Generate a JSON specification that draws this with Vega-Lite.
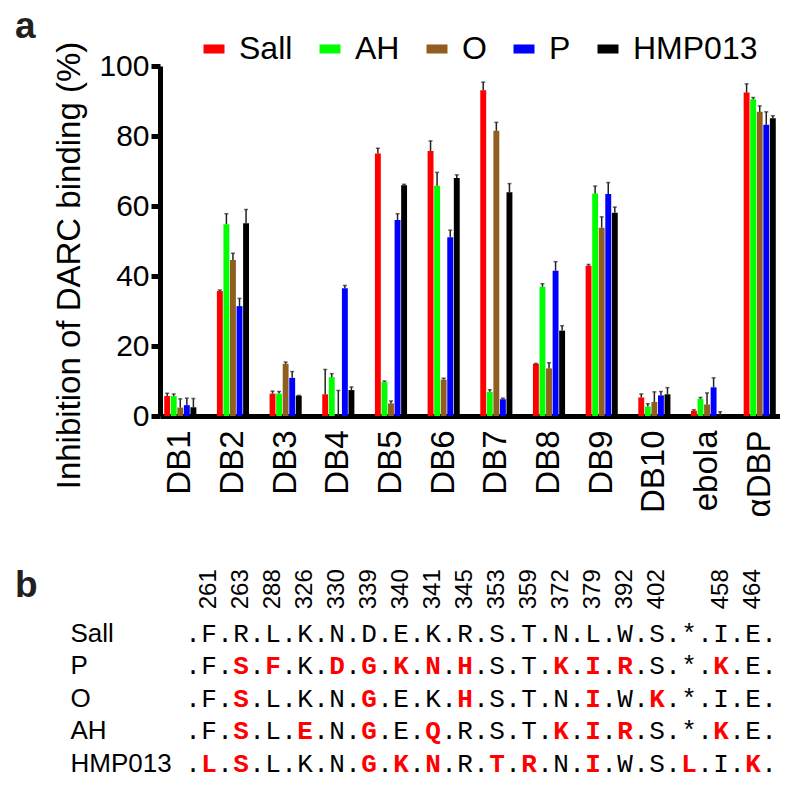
{
  "$schema": "https://vega.github.io/schema/vega-lite/v6.json",
  "background": "white",
  "padding": {"left": 15, "top": 8, "right": 0, "bottom": 0},
  "spacing": 50,
  "config": {
    "view": {"stroke": null},
    "font": "Liberation Sans",
    "axis": {"labelColor": "black", "titleColor": "black", "labelFont": "Liberation Sans", "titleFont": "Liberation Sans"}
  },
  "datasets": {
    "bars": [
      {"g": "DB1", "strain": "Sall", "v": 5.7, "hi": 6.5},
      {"g": "DB1", "strain": "AH", "v": 5.7, "hi": 6.3},
      {"g": "DB1", "strain": "O", "v": 2.4, "hi": 4.9},
      {"g": "DB1", "strain": "P", "v": 3.1, "hi": 5.1},
      {"g": "DB1", "strain": "HMP013", "v": 2.5, "hi": 5.0},
      {"g": "DB2", "strain": "Sall", "v": 35.7, "hi": 36.0},
      {"g": "DB2", "strain": "AH", "v": 54.8, "hi": 57.8},
      {"g": "DB2", "strain": "O", "v": 44.6, "hi": 46.5},
      {"g": "DB2", "strain": "P", "v": 31.4, "hi": 33.6},
      {"g": "DB2", "strain": "HMP013", "v": 55.1, "hi": 59.0},
      {"g": "DB3", "strain": "Sall", "v": 6.4, "hi": 7.1},
      {"g": "DB3", "strain": "AH", "v": 6.4, "hi": 7.0},
      {"g": "DB3", "strain": "O", "v": 14.9, "hi": 15.4},
      {"g": "DB3", "strain": "P", "v": 10.9, "hi": 12.7},
      {"g": "DB3", "strain": "HMP013", "v": 5.8, "hi": 5.9},
      {"g": "DB4", "strain": "Sall", "v": 6.2, "hi": 13.3},
      {"g": "DB4", "strain": "AH", "v": 11.1, "hi": 12.1},
      {"g": "DB4", "strain": "O", "v": 0, "hi": 7.3},
      {"g": "DB4", "strain": "P", "v": 36.5, "hi": 37.3},
      {"g": "DB4", "strain": "HMP013", "v": 7.4, "hi": 8.3},
      {"g": "DB5", "strain": "Sall", "v": 75.0, "hi": 76.5},
      {"g": "DB5", "strain": "AH", "v": 9.7, "hi": 10.0},
      {"g": "DB5", "strain": "O", "v": 3.6, "hi": 4.3},
      {"g": "DB5", "strain": "P", "v": 56.0, "hi": 57.8},
      {"g": "DB5", "strain": "HMP013", "v": 65.9, "hi": 66.2},
      {"g": "DB6", "strain": "Sall", "v": 75.7, "hi": 78.6},
      {"g": "DB6", "strain": "AH", "v": 65.8, "hi": 69.6},
      {"g": "DB6", "strain": "O", "v": 10.4, "hi": 10.8},
      {"g": "DB6", "strain": "P", "v": 51.1, "hi": 53.1},
      {"g": "DB6", "strain": "HMP013", "v": 68.0, "hi": 68.9},
      {"g": "DB7", "strain": "Sall", "v": 93.1, "hi": 95.4},
      {"g": "DB7", "strain": "AH", "v": 6.9, "hi": 7.5},
      {"g": "DB7", "strain": "O", "v": 81.5, "hi": 83.9},
      {"g": "DB7", "strain": "P", "v": 4.8, "hi": 5.1},
      {"g": "DB7", "strain": "HMP013", "v": 63.9, "hi": 66.4},
      {"g": "DB8", "strain": "Sall", "v": 14.9, "hi": 15.0},
      {"g": "DB8", "strain": "AH", "v": 36.9, "hi": 37.8},
      {"g": "DB8", "strain": "O", "v": 13.6, "hi": 15.2},
      {"g": "DB8", "strain": "P", "v": 41.5, "hi": 44.1},
      {"g": "DB8", "strain": "HMP013", "v": 24.4, "hi": 25.8},
      {"g": "DB9", "strain": "Sall", "v": 42.9, "hi": 43.3},
      {"g": "DB9", "strain": "AH", "v": 63.6, "hi": 65.7},
      {"g": "DB9", "strain": "O", "v": 53.8, "hi": 56.9},
      {"g": "DB9", "strain": "P", "v": 63.4, "hi": 66.7},
      {"g": "DB9", "strain": "HMP013", "v": 58.1, "hi": 59.7},
      {"g": "DB10", "strain": "Sall", "v": 5.3, "hi": 6.3},
      {"g": "DB10", "strain": "AH", "v": 2.7, "hi": 3.5},
      {"g": "DB10", "strain": "O", "v": 4.0, "hi": 6.9},
      {"g": "DB10", "strain": "P", "v": 5.9, "hi": 7.0},
      {"g": "DB10", "strain": "HMP013", "v": 6.2, "hi": 8.1},
      {"g": "ebola", "strain": "Sall", "v": 1.5, "hi": 1.8},
      {"g": "ebola", "strain": "AH", "v": 4.9, "hi": 5.3},
      {"g": "ebola", "strain": "O", "v": 3.3, "hi": 6.6},
      {"g": "ebola", "strain": "P", "v": 8.2, "hi": 10.9},
      {"g": "ebola", "strain": "HMP013", "v": 0, "hi": 1.2},
      {"g": "αDBP", "strain": "Sall", "v": 92.4, "hi": 94.9},
      {"g": "αDBP", "strain": "AH", "v": 90.5, "hi": 91.0},
      {"g": "αDBP", "strain": "O", "v": 86.9, "hi": 88.6},
      {"g": "αDBP", "strain": "P", "v": 83.2, "hi": 86.9},
      {"g": "αDBP", "strain": "HMP013", "v": 85.1, "hi": 85.8}
    ],
    "headers": [
      {"r": "hdr", "s": "261", "num": "261"},
      {"r": "hdr", "s": "263", "num": "263"},
      {"r": "hdr", "s": "288", "num": "288"},
      {"r": "hdr", "s": "326", "num": "326"},
      {"r": "hdr", "s": "330", "num": "330"},
      {"r": "hdr", "s": "339", "num": "339"},
      {"r": "hdr", "s": "340", "num": "340"},
      {"r": "hdr", "s": "341", "num": "341"},
      {"r": "hdr", "s": "345", "num": "345"},
      {"r": "hdr", "s": "353", "num": "353"},
      {"r": "hdr", "s": "359", "num": "359"},
      {"r": "hdr", "s": "372", "num": "372"},
      {"r": "hdr", "s": "379", "num": "379"},
      {"r": "hdr", "s": "392", "num": "392"},
      {"r": "hdr", "s": "402", "num": "402"},
      {"r": "hdr", "s": "458", "num": "458"},
      {"r": "hdr", "s": "464", "num": "464"}
    ],
    "seq": [
      {"r": "Sall", "s": "261", "a": "F", "m": 0}, {"r": "Sall", "s": "263", "a": "R", "m": 0}, {"r": "Sall", "s": "288", "a": "L", "m": 0}, {"r": "Sall", "s": "326", "a": "K", "m": 0}, {"r": "Sall", "s": "330", "a": "N", "m": 0}, {"r": "Sall", "s": "339", "a": "D", "m": 0}, {"r": "Sall", "s": "340", "a": "E", "m": 0}, {"r": "Sall", "s": "341", "a": "K", "m": 0}, {"r": "Sall", "s": "345", "a": "R", "m": 0}, {"r": "Sall", "s": "353", "a": "S", "m": 0}, {"r": "Sall", "s": "359", "a": "T", "m": 0}, {"r": "Sall", "s": "372", "a": "N", "m": 0}, {"r": "Sall", "s": "379", "a": "L", "m": 0}, {"r": "Sall", "s": "392", "a": "W", "m": 0}, {"r": "Sall", "s": "402", "a": "S", "m": 0}, {"r": "Sall", "s": "stop", "a": "*", "m": 0}, {"r": "Sall", "s": "458", "a": "I", "m": 0}, {"r": "Sall", "s": "464", "a": "E", "m": 0},
      {"r": "P", "s": "261", "a": "F", "m": 0}, {"r": "P", "s": "263", "a": "S", "m": 1}, {"r": "P", "s": "288", "a": "F", "m": 1}, {"r": "P", "s": "326", "a": "K", "m": 0}, {"r": "P", "s": "330", "a": "D", "m": 1}, {"r": "P", "s": "339", "a": "G", "m": 1}, {"r": "P", "s": "340", "a": "K", "m": 1}, {"r": "P", "s": "341", "a": "N", "m": 1}, {"r": "P", "s": "345", "a": "H", "m": 1}, {"r": "P", "s": "353", "a": "S", "m": 0}, {"r": "P", "s": "359", "a": "T", "m": 0}, {"r": "P", "s": "372", "a": "K", "m": 1}, {"r": "P", "s": "379", "a": "I", "m": 1}, {"r": "P", "s": "392", "a": "R", "m": 1}, {"r": "P", "s": "402", "a": "S", "m": 0}, {"r": "P", "s": "stop", "a": "*", "m": 0}, {"r": "P", "s": "458", "a": "K", "m": 1}, {"r": "P", "s": "464", "a": "E", "m": 0},
      {"r": "O", "s": "261", "a": "F", "m": 0}, {"r": "O", "s": "263", "a": "S", "m": 1}, {"r": "O", "s": "288", "a": "L", "m": 0}, {"r": "O", "s": "326", "a": "K", "m": 0}, {"r": "O", "s": "330", "a": "N", "m": 0}, {"r": "O", "s": "339", "a": "G", "m": 1}, {"r": "O", "s": "340", "a": "E", "m": 0}, {"r": "O", "s": "341", "a": "K", "m": 0}, {"r": "O", "s": "345", "a": "H", "m": 1}, {"r": "O", "s": "353", "a": "S", "m": 0}, {"r": "O", "s": "359", "a": "T", "m": 0}, {"r": "O", "s": "372", "a": "N", "m": 0}, {"r": "O", "s": "379", "a": "I", "m": 1}, {"r": "O", "s": "392", "a": "W", "m": 0}, {"r": "O", "s": "402", "a": "K", "m": 1}, {"r": "O", "s": "stop", "a": "*", "m": 0}, {"r": "O", "s": "458", "a": "I", "m": 0}, {"r": "O", "s": "464", "a": "E", "m": 0},
      {"r": "AH", "s": "261", "a": "F", "m": 0}, {"r": "AH", "s": "263", "a": "S", "m": 1}, {"r": "AH", "s": "288", "a": "L", "m": 0}, {"r": "AH", "s": "326", "a": "E", "m": 1}, {"r": "AH", "s": "330", "a": "N", "m": 0}, {"r": "AH", "s": "339", "a": "G", "m": 1}, {"r": "AH", "s": "340", "a": "E", "m": 0}, {"r": "AH", "s": "341", "a": "Q", "m": 1}, {"r": "AH", "s": "345", "a": "R", "m": 0}, {"r": "AH", "s": "353", "a": "S", "m": 0}, {"r": "AH", "s": "359", "a": "T", "m": 0}, {"r": "AH", "s": "372", "a": "K", "m": 1}, {"r": "AH", "s": "379", "a": "I", "m": 1}, {"r": "AH", "s": "392", "a": "R", "m": 1}, {"r": "AH", "s": "402", "a": "S", "m": 0}, {"r": "AH", "s": "stop", "a": "*", "m": 0}, {"r": "AH", "s": "458", "a": "K", "m": 1}, {"r": "AH", "s": "464", "a": "E", "m": 0},
      {"r": "HMP013", "s": "261", "a": "L", "m": 1}, {"r": "HMP013", "s": "263", "a": "S", "m": 1}, {"r": "HMP013", "s": "288", "a": "L", "m": 0}, {"r": "HMP013", "s": "326", "a": "K", "m": 0}, {"r": "HMP013", "s": "330", "a": "N", "m": 0}, {"r": "HMP013", "s": "339", "a": "G", "m": 1}, {"r": "HMP013", "s": "340", "a": "K", "m": 1}, {"r": "HMP013", "s": "341", "a": "N", "m": 1}, {"r": "HMP013", "s": "345", "a": "R", "m": 0}, {"r": "HMP013", "s": "353", "a": "T", "m": 1}, {"r": "HMP013", "s": "359", "a": "R", "m": 1}, {"r": "HMP013", "s": "372", "a": "N", "m": 0}, {"r": "HMP013", "s": "379", "a": "I", "m": 1}, {"r": "HMP013", "s": "392", "a": "W", "m": 0}, {"r": "HMP013", "s": "402", "a": "S", "m": 0}, {"r": "HMP013", "s": "stop", "a": "L", "m": 1}, {"r": "HMP013", "s": "458", "a": "I", "m": 0}, {"r": "HMP013", "s": "464", "a": "K", "m": 1}
    ]
  },
  "vconcat": [
    {
      "width": 620,
      "height": 350,
      "title": {"text": "a", "anchor": "start", "frame": "group", "dx": -145, "fontSize": 37, "fontWeight": "bold", "color": "#231f20", "font": "Liberation Sans", "offset": -5},
      "data": {"name": "bars"},
      "encoding": {
        "x": {
          "field": "g", "type": "nominal",
          "sort": ["DB1", "DB2", "DB3", "DB4", "DB5", "DB6", "DB7", "DB8", "DB9", "DB10", "ebola", "αDBP"],
          "scale": {"paddingInner": 0.39, "paddingOuter": 0.08},
          "axis": {"title": null, "labelAngle": 270, "labelFontSize": 33, "ticks": false, "domainWidth": 5, "domainColor": "black", "labelPadding": 14}
        },
        "xOffset": {"field": "strain", "type": "nominal", "sort": ["Sall", "AH", "O", "P", "HMP013"], "scale": {"paddingInner": 0.1}}
      },
      "layer": [
        {
          "mark": {"type": "bar"},
          "encoding": {
            "y": {
              "field": "v", "type": "quantitative",
              "scale": {"domain": [0, 100], "nice": false},
              "axis": {"title": "Inhibition of DARC binding (%)", "values": [0, 20, 40, 60, 80, 100], "grid": false, "domainWidth": 5, "domainColor": "black", "tickWidth": 5, "tickColor": "black", "tickSize": 9, "labelFontSize": 30, "labelPadding": 2, "titleFontSize": 33, "titleFontWeight": "normal", "titlePadding": 12, "titleY": 199}
            },
            "color": {
              "field": "strain", "type": "nominal",
              "scale": {"domain": ["Sall", "AH", "O", "P", "HMP013"], "range": ["#ff0000", "#00ff00", "#905f20", "#0000ff", "#000000"]},
              "legend": {"orient": "none", "legendX": 38, "legendY": -33, "direction": "horizontal", "title": null, "labelFontSize": 32, "labelFont": "Liberation Sans", "labelColor": "black", "symbolType": "M-1,-0.43H1V0.43H-1Z", "symbolSize": 441, "symbolStrokeWidth": 0, "labelOffset": 9, "columnPadding": 21}
            }
          }
        },
        {
          "mark": {"type": "rule", "color": "#222222", "strokeWidth": 1.5},
          "encoding": {
            "y": {"field": "v", "type": "quantitative"},
            "y2": {"field": "hi"}
          }
        },
        {
          "mark": {"type": "tick", "color": "#222222", "orient": "horizontal", "size": 4, "thickness": 1.5},
          "encoding": {
            "y": {"field": "hi", "type": "quantitative"}
          }
        }
      ]
    },
    {
      "width": 620,
      "height": 195,
      "title": {"text": "b", "anchor": "start", "frame": "group", "dx": -145, "fontSize": 37, "fontWeight": "bold", "color": "#231f20", "font": "Liberation Sans", "offset": -36},
      "encoding": {
        "x": {
          "field": "s", "type": "nominal",
          "sort": ["261", "263", "288", "326", "330", "339", "340", "341", "345", "353", "359", "372", "379", "392", "402", "stop", "458", "464"],
          "scale": {"type": "band", "paddingInner": 0, "paddingOuter": 0.6875, "align": 0.75},
          "axis": null
        },
        "y": {
          "field": "r", "type": "nominal",
          "sort": ["hdr", "Sall", "P", "O", "AH", "HMP013"],
          "scale": {"type": "band", "paddingInner": 0, "paddingOuter": 0},
          "axis": {"title": null, "domain": false, "ticks": false, "labelAlign": "left", "labelPadding": 90, "labelFontSize": 26, "labelExpr": "datum.value == 'hdr' ? '' : datum.value"}
        }
      },
      "layer": [
        {
          "data": {"name": "headers"},
          "mark": {"type": "text", "angle": 270, "align": "left", "baseline": "middle", "fontSize": 24, "font": "Liberation Sans", "color": "black", "dx": -8},
          "encoding": {
            "text": {"field": "num"}
          }
        },
        {
          "data": {"name": "seq"},
          "mark": {"type": "text", "fontSize": 26, "font": "Liberation Mono", "color": "black", "dx": -16},
          "encoding": {
            "text": {"value": "."}
          }
        },
        {
          "data": {"name": "seq"},
          "transform": [{"filter": "datum.s == '464'"}],
          "mark": {"type": "text", "fontSize": 26, "font": "Liberation Mono", "color": "black", "dx": 16},
          "encoding": {
            "text": {"value": "."}
          }
        },
        {
          "data": {"name": "seq"},
          "transform": [{"filter": "datum.m == 0"}],
          "mark": {"type": "text", "fontSize": 26, "font": "Liberation Mono", "color": "black"},
          "encoding": {
            "text": {"field": "a"}
          }
        },
        {
          "data": {"name": "seq"},
          "transform": [{"filter": "datum.m == 1"}],
          "mark": {"type": "text", "fontSize": 26, "font": "Liberation Mono", "fontWeight": "bold", "color": "#ff0000"},
          "encoding": {
            "text": {"field": "a"}
          }
        }
      ]
    }
  ]
}
